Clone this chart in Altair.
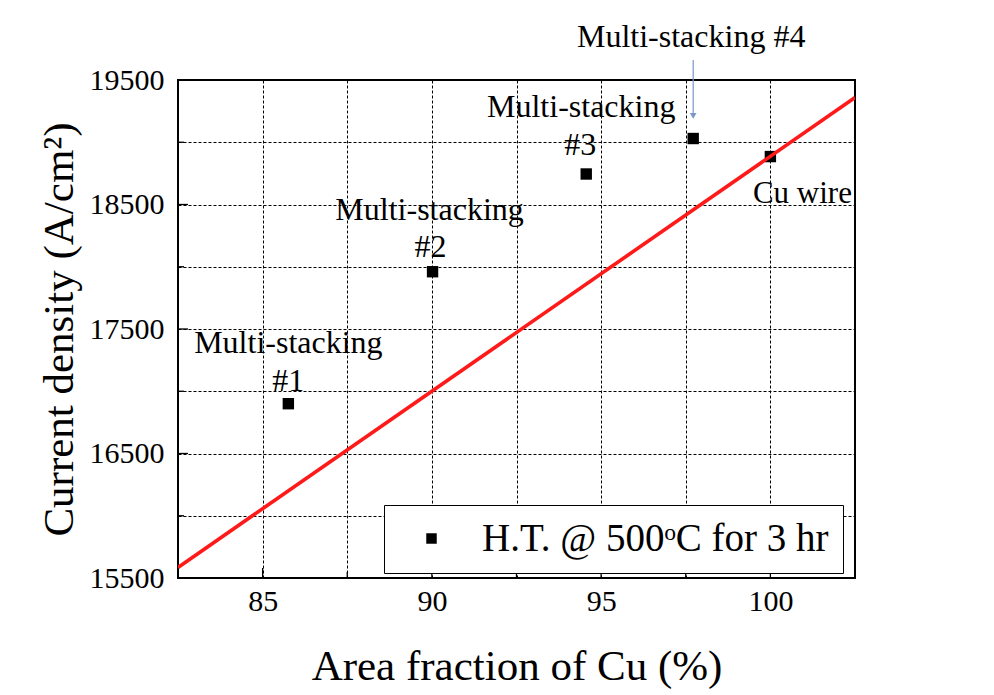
import altair as alt
import pandas as pd

# ---- data ----
area_frac = [85.76, 90.02, 94.56, 97.72, 100.0]
current_density = [16900, 17960, 18745, 19030, 18885]
sample_ids = ["#1", "#2", "#3", "#4", "Cu"]
fit_x = [82.5, 102.5]
fit_y = [15585, 19359]
x_grid = [85, 87.5, 90, 92.5, 95, 97.5, 100]
x_labeled = [85, 90, 95, 100]
y_grid = [15500, 16000, 16500, 17000, 17500, 18000, 18500, 19000, 19500]
y_labeled = [15500, 16500, 17500, 18500, 19500]
arrow_y = [19660, 19200]
arrow_head_y = [19212]
legend_label = "H.T. @ 500\u1d52C for 3 hr\u00a0\u00a0\u00a0"

FONT = "Liberation Serif"
W, H = 677, 498

xs = alt.Scale(domain=[82.5, 102.5], nice=False, zero=False)
ys = alt.Scale(domain=[15500, 19500], nice=False, zero=False)

pts = pd.DataFrame({"x": area_frac, "y": current_density, "id": sample_ids,
                    "series": [legend_label] * len(area_frac)})
fit = pd.DataFrame({"x": fit_x, "y": fit_y})

x_axis = alt.Axis(values=x_grid, labelExpr=f"indexof({x_labeled}, datum.value) >= 0 ? datum.label : ''",
                  title="Area fraction of Cu (%)", labelPadding=8, titlePadding=29)
y_axis = alt.Axis(values=y_grid, format="d",
                  labelExpr=f"indexof({y_labeled}, datum.value) >= 0 ? datum.label : ''",
                  title="Current density (A/cm\u00b2)", labelPadding=14, titlePadding=8)

base_points = alt.Chart(pts).mark_square(size=130, opacity=1, filled=True).encode(
    x=alt.X("x:Q", scale=xs, axis=x_axis),
    y=alt.Y("y:Q", scale=ys, axis=y_axis),
    color=alt.Color("series:N", scale=alt.Scale(range=["black"]),
                    legend=alt.Legend(title=None, orient="none", legendX=206, legendY=425,
                                      fillColor="white", strokeColor="black", padding=14,
                                      symbolType="square", symbolSize=110, symbolOffset=14,
                                      labelOffset=31, labelFont=FONT, labelFontSize=39,
                                      labelColor="black", labelLimit=600, symbolStrokeWidth=0)),
)

fit_line = alt.Chart(fit).mark_line(color="#ff1a1a", strokeWidth=3.6, clip=True).encode(
    x=alt.X("x:Q", scale=xs), y=alt.Y("y:Q", scale=ys))

# inward ticks
xt_major = alt.Chart(pd.DataFrame({"v": x_labeled})).mark_rule(color="black", strokeWidth=1.3).encode(
    x=alt.X("v:Q", scale=xs), y=alt.value(H), y2=alt.value(H - 10))
xt_minor = alt.Chart(pd.DataFrame({"v": [v for v in x_grid if v not in x_labeled]})).mark_rule(
    color="black", strokeWidth=1.3).encode(x=alt.X("v:Q", scale=xs), y=alt.value(H), y2=alt.value(H - 6))
yt_major = alt.Chart(pd.DataFrame({"v": y_labeled[1:-1]})).mark_rule(color="black", strokeWidth=1.3).encode(
    y=alt.Y("v:Q", scale=ys), x=alt.value(0), x2=alt.value(10))
yt_minor = alt.Chart(pd.DataFrame({"v": [v for v in y_grid if v not in y_labeled]})).mark_rule(
    color="black", strokeWidth=1.3).encode(y=alt.Y("v:Q", scale=ys), x=alt.value(0), x2=alt.value(6))

# annotations: (sample id, text, dx, dy, font size)
ann_specs = [
    ("#1", "Multi-stacking", 0, -51, 32), ("#1", "#1", 0, -13, 32),
    ("#2", "Multi-stacking", -3, -52, 32), ("#2", "#2", -2, -15, 32),
    ("#3", "Multi-stacking", -5, -57, 32), ("#3", "#3", -6, -19, 32),
    ("#4", "Multi-stacking #4", -2, -92, 32),
    ("Cu", "Cu wire", 32, 46, 31),
]
ann_layers = []
for sid, txt, dx, dy, fs in ann_specs:
    ann_layers.append(
        alt.Chart(pts).transform_filter(alt.datum.id == sid).mark_text(
            font=FONT, fontSize=fs, color="black", align="center", baseline="alphabetic",
            dx=dx, dy=dy).encode(x=alt.X("x:Q", scale=xs), y=alt.Y("y:Q", scale=ys), text=alt.value(txt))
    )

arrow_df = pd.DataFrame({"x": [area_frac[3]], "y": [arrow_y[0]], "y2": [arrow_y[1]], "yh": arrow_head_y})
arrow_line = alt.Chart(arrow_df).mark_rule(color="#7b96c8", strokeWidth=1.2).encode(
    x=alt.X("x:Q", scale=xs), y=alt.Y("y:Q", scale=ys), y2="y2:Q")
arrow_head = alt.Chart(arrow_df).mark_point(shape="triangle-down", filled=True, size=45,
                                            color="#7b96c8", opacity=1).encode(
    x=alt.X("x:Q", scale=xs), y=alt.Y("yh:Q", scale=ys))

chart = alt.layer(base_points, fit_line, xt_major, xt_minor, yt_major, yt_minor,
                  *ann_layers, arrow_line, arrow_head).properties(
    width=W, height=H,
    padding={"left": 170, "top": 72, "right": 130, "bottom": 115},
    autosize=alt.AutoSizeParams(type="none"),
).configure_view(stroke="black", strokeWidth=2).configure_axis(
    domain=False, ticks=False, grid=True, gridColor="black", gridDash=[3, 2], gridWidth=1,
    gridOpacity=1, labelFont=FONT, labelFontSize=30, labelColor="black",
    titleFont=FONT, titleFontSize=43, titleFontWeight="normal", titleColor="black",
)

chart.save("out.html", embed_options={"renderer": "svg", "actions": False})
